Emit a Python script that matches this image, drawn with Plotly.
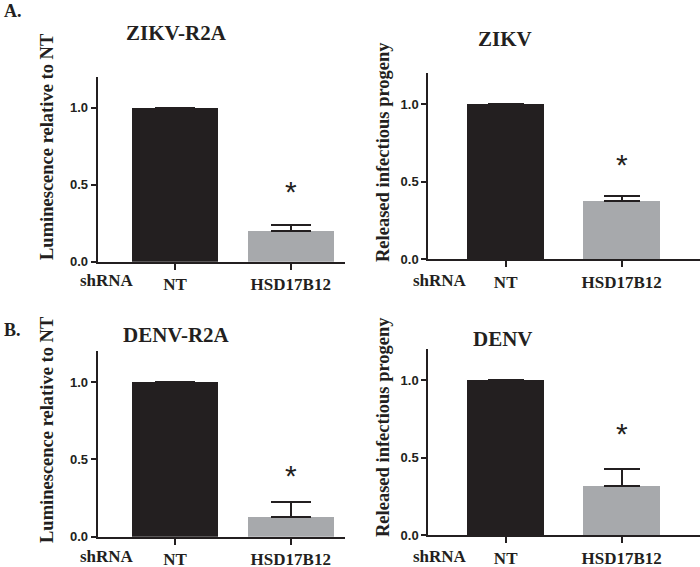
import plotly.graph_objects as go

categories = ["NT", "HSD17B12"]
panel_titles = ["ZIKV-R2A", "ZIKV", "DENV-R2A", "DENV"]
y_titles = ["Luminescence relative to NT", "Released infectious progeny",
            "Luminescence relative to NT", "Released infectious progeny"]
zikv_r2a = [1.0, 0.20]
zikv_r2a_err = [0.0, 0.04]
zikv = [1.0, 0.376]
zikv_err = [0.0, 0.032]
denv_r2a = [1.0, 0.126]
denv_r2a_err = [0.0, 0.10]
denv = [1.0, 0.316]
denv_err = [0.0, 0.108]
star_y = [0.48, 0.64, 0.42, 0.68]
y_tick_vals = [0, 0.5, 1.0]
y_tick_text = ["0.0", "0.5", "1.0"]

W, H = 700, 567
INK = "#231f20"
GREY = "#a7a9ac"
SERIF = "Liberation Serif"
SANS = "Liberation Sans"

series = [(zikv_r2a, zikv_r2a_err), (zikv, zikv_err), (denv_r2a, denv_r2a_err), (denv, denv_err)]

# layout geometry (pixels)
panels = [
    dict(x0=97.7, x1=345, y0=261.7, y1=76.9, xr=[-0.668, 1.469], bw=0.743, cap=20,
         title=(177, 33), ytitle=(47, 147), shrna=(107, 280), standoff=0),
    dict(x0=428.3, x1=700, y0=259.3, y1=73.3, xr=[-0.667, 1.675], bw=0.667, cap=18,
         title=(505, 39), ytitle=(383, 152), shrna=(440, 281), standoff=0),
    dict(x0=97.7, x1=345, y0=536.7, y1=351.4, xr=[-0.668, 1.469], bw=0.743, cap=20,
         title=(177, 335), ytitle=(47, 430), shrna=(107, 556.5), standoff=0),
    dict(x0=428.3, x1=700, y0=535, y1=349, xr=[-0.667, 1.675], bw=0.667, cap=18,
         title=(503, 339), ytitle=(383, 427), shrna=(440, 556.5), standoff=1),
]

fig = go.Figure()
annotations = []
layout = {}

for i, (p, (vals, errs)) in enumerate(zip(panels, series)):
    n = "" if i == 0 else str(i + 1)
    xa, ya = "x" + n, "y" + n
    fig.add_trace(go.Bar(
        x=categories, y=vals, xaxis=xa, yaxis=ya, width=p["bw"],
        marker=dict(color=[INK, GREY], line=dict(width=0)),
        error_y=dict(type="data", symmetric=False, array=errs, arrayminus=[0, 0],
                     color=INK, thickness=2, width=p["cap"]),
        showlegend=False, hoverinfo="skip",
    ))
    layout["xaxis" + n] = dict(
        domain=[p["x0"] / W, p["x1"] / W], anchor=ya, type="category",
        range=p["xr"], showline=True, linecolor=INK, linewidth=2,
        ticks="outside", ticklen=6, tickwidth=2, tickcolor=INK,
        showgrid=False, zeroline=False, ticklabelstandoff=p["standoff"],
        automargin=False,
        tickfont=dict(family=SERIF, size=17, color=INK, weight="bold"),
    )
    layout["yaxis" + n] = dict(
        domain=[1 - p["y0"] / H, 1 - p["y1"] / H], anchor=xa,
        range=[0, 1.2], showline=True, linecolor=INK, linewidth=2,
        tickvals=y_tick_vals, ticktext=y_tick_text,
        ticks="outside", ticklen=5, tickwidth=2, tickcolor=INK,
        showgrid=False, zeroline=False, automargin=False,
        tickfont=dict(family=SANS, size=13, color=INK, weight="bold"),
    )
    annotations.append(dict(text=panel_titles[i], xref="paper", yref="paper",
                            x=p["title"][0] / W, y=1 - p["title"][1] / H,
                            showarrow=False, xanchor="center", yanchor="middle",
                            font=dict(family=SERIF, size=21, color=INK, weight="bold")))
    annotations.append(dict(text=y_titles[i], xref="paper", yref="paper",
                            x=p["ytitle"][0] / W, y=1 - p["ytitle"][1] / H,
                            textangle=-90, showarrow=False, xanchor="center", yanchor="middle",
                            font=dict(family=SERIF, size=18.5, color=INK, weight="bold")))
    annotations.append(dict(text="shRNA", xref="paper", yref="paper",
                            x=p["shrna"][0] / W, y=1 - p["shrna"][1] / H,
                            showarrow=False, xanchor="center", yanchor="middle",
                            font=dict(family=SERIF, size=17, color=INK, weight="bold")))
    annotations.append(dict(text="*", xref=xa, yref=ya, x=categories[1], y=star_y[i],
                            showarrow=False, xanchor="center", yanchor="middle", yshift=-4,
                            font=dict(family=SANS, size=30, color=INK)))

annotations.append(dict(text="A.", xref="paper", yref="paper", x=13 / W, y=1 - 11 / H,
                        showarrow=False, xanchor="center", yanchor="middle",
                        font=dict(family=SERIF, size=18, color=INK, weight="bold")))
annotations.append(dict(text="B.", xref="paper", yref="paper", x=12 / W, y=1 - 330 / H,
                        showarrow=False, xanchor="center", yanchor="middle",
                        font=dict(family=SERIF, size=18, color=INK, weight="bold")))

fig.update_layout(
    width=W, height=H, margin=dict(l=0, r=0, t=0, b=0, autoexpand=False),
    paper_bgcolor="white", plot_bgcolor="white", showlegend=False,
    bargap=0, annotations=annotations, **layout,
)

post = (
    "var de=document.documentElement, b=document.body;"
    "de.style.margin='0';b.style.margin='0';de.style.overflow='hidden';b.style.overflow='hidden';"
)

fig.write_html(
    "out.html",
    config={"displayModeBar": False, "staticPlot": True},
    post_script=post,
)
